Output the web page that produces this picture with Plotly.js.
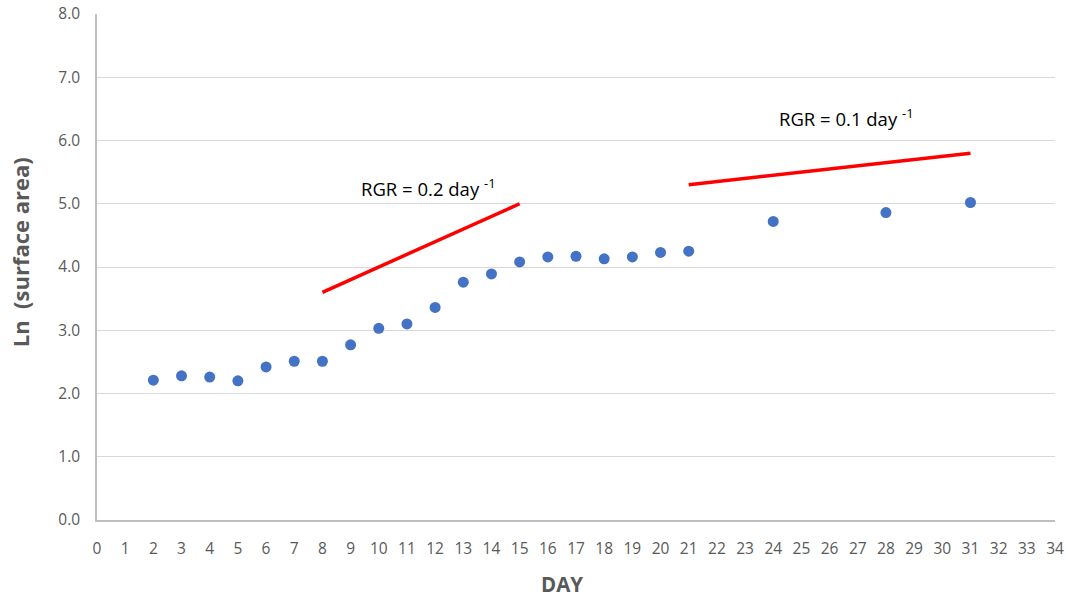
<!DOCTYPE html>
<html><head><meta charset="utf-8">
<script src="https://cdn.plot.ly/plotly-3.0.1.min.js"></script>
<style>html,body{margin:0;padding:0;background:#fff}#chart{width:1066px;height:599px}</style>
</head><body><div id="chart"></div>
<script>
const days = [2,3,4,5,6,7,8,9,10,11,12,13,14,15,16,17,18,19,20,21,24,28,31];
const lnArea = [2.21,2.28,2.26,2.20,2.42,2.51,2.51,2.77,3.03,3.10,3.36,3.76,3.89,4.08,4.16,4.17,4.13,4.16,4.23,4.25,4.72,4.86,5.02];
const rgr1X = [8,15], rgr1Y = [3.6,5.0];
const rgr2X = [21,31], rgr2Y = [5.3,5.8];
const xTicks = Array.from({length:35},(_,i)=>i);
const yTicks = [0,1,2,3,4,5,6,7,8];
const xTitle = 'DAY';
const yTitle = 'Ln  (surface area)';

const font = "'Open Sans', 'Noto Sans', sans-serif";
const data = [
  {x: days, y: lnArea, type:'scatter', mode:'markers', marker:{color:'#4472C4', size:11}, hoverinfo:'x+y'},
  {x: rgr1X, y: rgr1Y, type:'scatter', mode:'lines', line:{color:'#FF0000', width:3.5}},
  {x: rgr2X, y: rgr2Y, type:'scatter', mode:'lines', line:{color:'#FF0000', width:3.5}}
];
const layout = {
  width:1066, height:599, showlegend:false,
  paper_bgcolor:'#fff', plot_bgcolor:'#fff',
  margin:{l:97, r:11, t:14, b:79},
  font:{family:font, color:'#595959'},
  xaxis:{range:[0,34], tickvals:xTicks, ticktext:xTicks.map(String), showgrid:false, zeroline:false,
    showline:true, linecolor:'#BFBFBF', linewidth:1.5, ticks:'', ticklabelstandoff:14, tickfont:{size:15.5, color:'#595959'}},
  yaxis:{range:[0,8], tickvals:yTicks, ticktext:yTicks.map(v=>v.toFixed(1)), showgrid:true, gridcolor:'#D9D9D9', gridwidth:1.2,
    zeroline:false, showline:true, linecolor:'#BFBFBF', linewidth:1.5, ticks:'', ticklabelstandoff:12, tickfont:{size:15.5, color:'#595959'}},
  annotations:[
    {x:0.485, y:-0.126, xref:'paper', yref:'paper', xanchor:'center', yanchor:'middle', borderpad:0, text:'<b>'+xTitle+'</b>', showarrow:false, font:{size:20.5, color:'#595959', family:font}},
    {x:-0.081, y:0.53, xref:'paper', yref:'paper', xanchor:'center', yanchor:'middle', text:'<b>'+yTitle+'</b>', textangle:-90, showarrow:false, font:{size:22, color:'#595959', family:font}},
    {x:11.75, y:5.26, xref:'x', yref:'y', text:'RGR = 0.2 day <sup>-1</sup>', showarrow:false, font:{size:18.5, color:'#000', family:font}},
    {x:26.6, y:6.37, xref:'x', yref:'y', text:'RGR = 0.1 day <sup>-1</sup>', showarrow:false, font:{size:18.5, color:'#000', family:font}}
  ]
};
Plotly.newPlot('chart', data, layout, {displayModeBar:false});
</script></body></html>
